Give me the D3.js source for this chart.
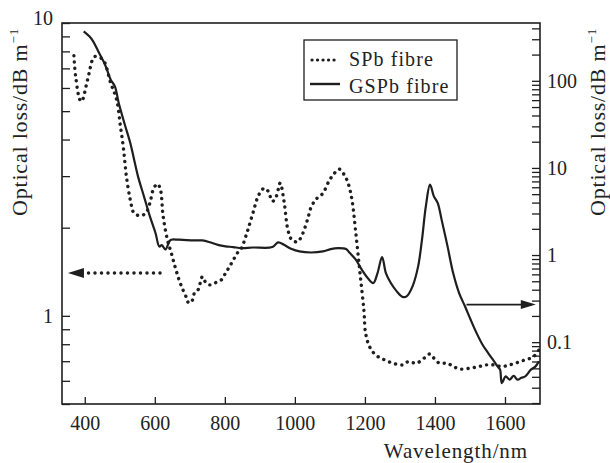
<!DOCTYPE html>
<html>
<head>
<meta charset="utf-8">
<style>
  body { margin: 0; background: #fff; }
  text { font-family: "Liberation Serif", "Times New Roman", serif; fill: #222; }
</style>
</head>
<body>
<svg id="chart" width="610" height="463"></svg>
<script src="https://d3js.org/d3.v7.min.js"></script>
<script>
// SPb fibre, left axis (dB/m)
const wavelengthSPb = [369, 374, 386, 391, 408, 424, 430, 452, 474, 491, 502, 511, 519, 530, 541, 558, 574, 586, 597, 608,
  616, 624, 636, 647, 658, 669, 680, 691, 697, 708, 713, 724, 736, 747, 758, 769, 780, 791, 802, 813,
  824, 836, 847, 863, 880, 897, 913, 924, 936, 947, 958, 969, 980, 991, 1008, 1019, 1036, 1047, 1063, 1080,
  1097, 1113, 1127, 1141, 1152, 1163, 1174, 1186, 1197, 1202, 1213, 1230, 1252, 1280, 1308, 1324, 1347, 1369, 1386, 1397,
  1413, 1436, 1452, 1474, 1502, 1525, 1547, 1569, 1591, 1613, 1636, 1658, 1680, 1697]
const lossSPb = [7.73, 6.57, 5.47, 5.40, 6.40, 7.59, 7.69, 7.49, 6.24, 5.47, 4.43, 3.69, 2.99, 2.49, 2.24, 2.20, 2.24, 2.43, 2.73, 2.82,
  2.70, 2.18, 1.82, 1.64, 1.47, 1.33, 1.23, 1.15, 1.105, 1.134, 1.195, 1.23, 1.36, 1.29, 1.276, 1.29, 1.31, 1.33, 1.40, 1.47,
  1.55, 1.64, 1.70, 1.92, 2.24, 2.59, 2.73, 2.66, 2.46, 2.56, 2.84, 2.46, 1.97, 1.82, 1.79, 1.87, 2.13, 2.36, 2.52, 2.62,
  2.88, 3.07, 3.17, 3.03, 2.84, 2.49, 1.92, 1.40, 1.048, 0.873, 0.786, 0.736, 0.711, 0.689, 0.680, 0.698, 0.689, 0.717, 0.741, 0.717,
  0.689, 0.689, 0.671, 0.658, 0.663, 0.671, 0.680, 0.680, 0.671, 0.680, 0.693, 0.708, 0.723, 0.765]

// GSPb fibre, right axis (dB/m)
const wavelengthGSPb = [397, 413, 424, 441, 458, 474, 486, 497, 513, 530, 541, 552, 569, 586, 602, 613, 620, 630, 642, 647,
  669, 713, 736, 758, 780, 802, 824, 847, 880, 936, 952, 969, 991, 1013, 1046, 1080, 1102, 1124, 1146, 1157,
  1174, 1191, 1208, 1224, 1236, 1249, 1260, 1274, 1291, 1308, 1319, 1336, 1352, 1363, 1374, 1386, 1397, 1408, 1419, 1436,
  1452, 1469, 1486, 1502, 1519, 1536, 1552, 1569, 1580, 1586, 1591, 1602, 1613, 1625, 1636, 1647, 1658, 1674, 1686, 1697]
const lossGSPb = [370, 324, 284, 208, 153, 103, 86.4, 55.6, 32.8, 19.3, 12.4, 8.0, 4.72, 2.78, 1.79, 1.25, 1.30, 1.16, 1.44, 1.50,
  1.50, 1.47, 1.47, 1.40, 1.31, 1.26, 1.235, 1.20, 1.22, 1.235, 1.40, 1.31, 1.17, 1.10, 1.07, 1.10, 1.17, 1.20, 1.17, 1.054,
  0.884, 0.679, 0.544, 0.477, 0.621, 0.949, 0.621, 0.477, 0.383, 0.330, 0.335, 0.437, 0.741, 1.50, 3.62, 6.42, 4.72, 3.95, 2.55, 1.257,
  0.621, 0.366, 0.257, 0.181, 0.127, 0.0934, 0.075, 0.0601, 0.052, 0.0483, 0.0339, 0.0405, 0.0371, 0.041, 0.0371, 0.039, 0.0405, 0.0483, 0.052, 0.0601]

const xTicks = [400, 600, 800, 1000, 1200, 1400, 1600]
const leftTicks = [0.5, 0.6, 0.7, 0.8, 0.9, 1, 2, 3, 4, 5, 6, 7, 8, 9, 10]
const leftLabels = [1, 10]
const rightTicks = [0.02, 0.03, 0.04, 0.05, 0.06, 0.07, 0.08, 0.09, 0.1, 0.2, 0.3, 0.4, 0.5, 0.6, 0.7, 0.8, 0.9,
  1, 2, 3, 4, 5, 6, 7, 8, 9, 10, 20, 30, 40, 50, 60, 70, 80, 90, 100, 200, 300, 400]
const rightLabels = [0.1, 1, 10, 100]
const seriesNames = ['SPb fibre', 'GSPb fibre']
// arrows: which axis each curve belongs to
const arrowLeft = { wl: [615, 352], loss: 1.4 }
const arrowRight = { wl: [1490, 1688], loss: 0.27 }

const svg = d3.select('#chart')
const margin = {top: 23, right: 70, bottom: 59, left: 62}
const W = 610, H = 463
const ink = '#1e1e1e'

const x = d3.scaleLinear().domain([335, 1700]).range([margin.left, W - margin.right])
const yL = d3.scaleLog().domain([0.5, 10]).range([H - margin.bottom, margin.top])
const yR = d3.scaleLog().domain([0.0195, 461]).range([H - margin.bottom, margin.top])

const fmtL = d => leftLabels.includes(d) ? d : ''
const fmtR = d => rightLabels.includes(d) ? d : ''

const gx = svg.append('g').attr('transform', `translate(0, ${H - margin.bottom})`)
  .call(d3.axisBottom(x).tickValues(xTicks).tickSize(-7).tickPadding(12).tickFormat(d3.format('d')))
const gl = svg.append('g').attr('transform', `translate(${margin.left}, 0)`)
  .call(d3.axisLeft(yL).tickValues(leftTicks).tickSize(-8).tickPadding(9).tickFormat(fmtL))
const gr = svg.append('g').attr('transform', `translate(${W - margin.right}, 0)`)
  .call(d3.axisRight(yR).tickValues(rightTicks).tickSize(-8).tickPadding(7).tickFormat(fmtR))

;[gx, gl, gr].forEach(g => {
  g.select('.domain').remove()
  g.selectAll('.tick line').attr('stroke', ink).attr('stroke-width', 1.3)
  g.selectAll('.tick text').attr('font-family', '"Liberation Serif", serif').attr('font-size', 20).attr('fill', ink)
})
gl.selectAll('.tick text').filter(d => d === 10).attr('dy', '0.05em')

// frame
svg.append('rect').attr('x', margin.left).attr('y', margin.top)
  .attr('width', W - margin.right - margin.left).attr('height', H - margin.bottom - margin.top)
  .attr('fill', 'none').attr('stroke', ink).attr('stroke-width', 1.6)

svg.append('defs').append('clipPath').attr('id', 'clip').append('rect')
  .attr('x', margin.left).attr('y', margin.top)
  .attr('width', W - margin.right - margin.left).attr('height', H - margin.bottom - margin.top)

const spb = wavelengthSPb.map((w, i) => [w, lossSPb[i]])
const gspb = wavelengthGSPb.map((w, i) => [w, lossGSPb[i]])

const lineL = d3.line().x(d => x(d[0])).y(d => yL(d[1])).curve(d3.curveCatmullRom.alpha(0.5))
const lineR = d3.line().x(d => x(d[0])).y(d => yR(d[1])).curve(d3.curveCatmullRom.alpha(0.5))

const plot = svg.append('g').attr('clip-path', 'url(#clip)')
plot.append('path').datum(gspb).attr('d', lineR)
  .attr('fill', 'none').attr('stroke', ink).attr('stroke-width', 2.2).attr('stroke-linejoin', 'round')
plot.append('path').datum(spb).attr('d', lineL)
  .attr('fill', 'none').attr('stroke', ink).attr('stroke-width', 3.4)
  .attr('stroke-linecap', 'round').attr('stroke-dasharray', '0.1 6.2')

// arrows
const ayL = yL(arrowLeft.loss)
svg.append('line').attr('x1', x(arrowLeft.wl[0])).attr('x2', x(arrowLeft.wl[1]) + 14).attr('y1', ayL).attr('y2', ayL)
  .attr('stroke', ink).attr('stroke-width', 3.4).attr('stroke-linecap', 'round').attr('stroke-dasharray', '0.1 6.4')
svg.append('path')
  .attr('d', `M${x(arrowLeft.wl[1])},${ayL} L${x(arrowLeft.wl[1]) + 16},${ayL - 5} L${x(arrowLeft.wl[1]) + 16},${ayL + 5} Z`)
  .attr('fill', ink)

const ayR = yR(arrowRight.loss)
svg.append('line').attr('x1', x(arrowRight.wl[0])).attr('x2', x(arrowRight.wl[1]) - 10).attr('y1', ayR).attr('y2', ayR)
  .attr('stroke', ink).attr('stroke-width', 1.8)
svg.append('path')
  .attr('d', `M${x(arrowRight.wl[1])},${ayR} L${x(arrowRight.wl[1]) - 15},${ayR - 4.5} L${x(arrowRight.wl[1]) - 15},${ayR + 4.5} Z`)
  .attr('fill', ink)

// legend
const lg = svg.append('g')
lg.append('rect').attr('x', 304).attr('y', 40).attr('width', 153).attr('height', 60)
  .attr('fill', '#fff').attr('stroke', ink).attr('stroke-width', 1.3)
lg.append('line').attr('x1', 312).attr('x2', 339).attr('y1', 60).attr('y2', 60)
  .attr('stroke', ink).attr('stroke-width', 3.2).attr('stroke-linecap', 'round').attr('stroke-dasharray', '0.1 5.4')
lg.append('line').attr('x1', 310).attr('x2', 340).attr('y1', 84).attr('y2', 84)
  .attr('stroke', ink).attr('stroke-width', 2.4)
lg.selectAll('text.lab').data(seriesNames).enter().append('text').attr('class', 'lab')
  .attr('x', 349).attr('y', (d, i) => 66 + i * 27).attr('font-size', 20).attr('letter-spacing', 1.1)
  .text(d => d)

// axis titles
svg.append('text').attr('x', 528).attr('y', 458).attr('text-anchor', 'end')
  .attr('font-size', 21).attr('letter-spacing', 0.9).text('Wavelength/nm')

function yTitle(tx) {
  const t = svg.append('text').attr('transform', `translate(${tx}, 122) rotate(-90)`)
    .attr('text-anchor', 'middle').attr('font-size', 22).attr('letter-spacing', 0.8)
  t.append('tspan').text('Optical loss/dB m')
  t.append('tspan').attr('dy', -9).attr('font-size', 13).text('\u22121')
}
yTitle(27)
yTitle(605)
</script>
</body>
</html>
